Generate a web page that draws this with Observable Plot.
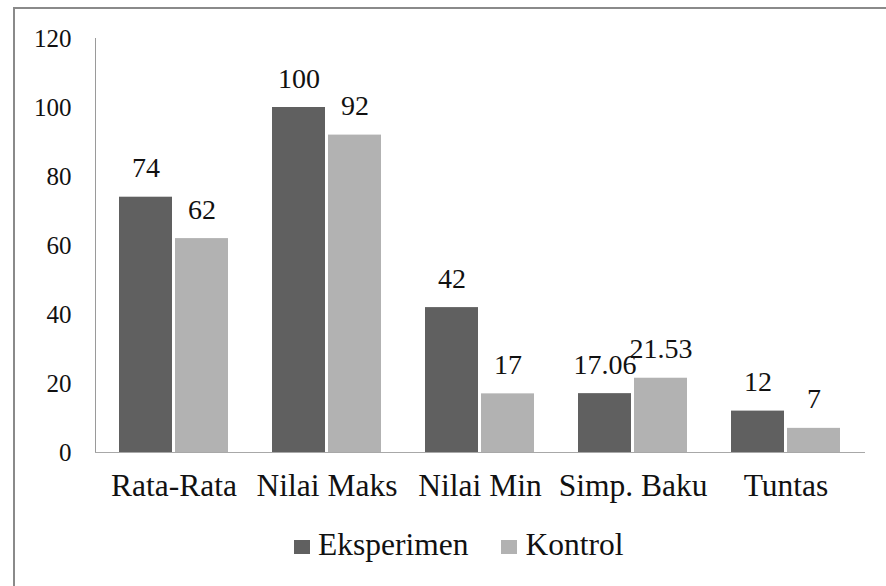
<!DOCTYPE html>
<html>
<head>
<meta charset="utf-8">
<script src="https://cdn.jsdelivr.net/npm/d3@7"></script>
<script src="https://cdn.jsdelivr.net/npm/@observablehq/plot@0.6"></script>
<style>
  html, body { margin: 0; padding: 0; background: #fff; }
  #wrap { position: relative; width: 886px; height: 586px; overflow: hidden; }
  #border { position: absolute; left: 13px; top: 7px; width: 900px; height: 600px; border-left: 2px solid #8a8a8a; border-top: 2px solid #8a8a8a; }
  #chart { position: absolute; left: 0; top: 0; }
  #legend { position: absolute; left: 294px; top: 530px; display: flex; align-items: flex-start; font-size: 31.5px; line-height: 30px; color: #111; }
  .sw { width: 16px; height: 14px; display: inline-block; margin-right: 8px; margin-top: 10px; }
  .item { display: flex; align-items: flex-start; margin-right: 33px; }
</style>
</head>
<body>
<div id="wrap" style="font-family: 'Liberation Serif', 'Times New Roman', Times, serif">
  <div id="border"></div>
  <div id="chart"></div>
  <div id="legend"></div>
</div>
<script>
const categories = ["Rata-Rata", "Nilai Maks", "Nilai Min", "Simp. Baku", "Tuntas"];
const series = ["Eksperimen", "Kontrol"];
const eksperimen = [74, 100, 42, 17.06, 12];
const kontrol = [62, 92, 17, 21.53, 7];
const labelsEksperimen = ["74", "100", "42", "17.06", "12"];
const labelsKontrol = ["62", "92", "17", "21.53", "7"];
const yTicks = [0, 20, 40, 60, 80, 100, 120];
const colors = ["#606060", "#b2b2b2"];

const dataE = categories.map((c, i) => ({category: c, value: eksperimen[i], label: labelsEksperimen[i]}));
const dataK = categories.map((c, i) => ({category: c, value: kontrol[i], label: labelsKontrol[i]}));

const FONT = "'Liberation Serif', 'Times New Roman', Times, serif";

const plot = Plot.plot({
  width: 886,
  height: 510,
  marginLeft: 95,
  marginRight: 21,
  marginTop: 38,
  marginBottom: 58,
  style: {"font-family": FONT, color: "#111", background: "transparent"},
  x: {domain: categories, paddingInner: 0.2857, paddingOuter: 0.143, label: null},
  y: {domain: [0, 120], label: null},
  marks: [
    Plot.axisY({ticks: yTicks, tickSize: 0, tickPadding: 24, fontSize: 25, tickFormat: d => String(d), label: null, fill: "#111"}),
    Plot.frame({anchor: "left", stroke: "#9a9a9a"}),
    Plot.axisX({tickSize: 0, tickPadding: 21, fontSize: 31.5, label: null, fill: "#111"}),
    Plot.barY(dataE, {x: "category", y: "value", fill: colors[0], insetRight: 56}),
    Plot.barY(dataK, {x: "category", y: "value", fill: colors[1], insetLeft: 56}),
    Plot.ruleY([0], {stroke: "#a8a8a8"}),
    Plot.text(dataE, {x: "category", y: "value", text: "label", dx: -28, dy: -20, lineAnchor: "bottom", fontSize: 28, fill: "#111"}),
    Plot.text(dataK, {x: "category", y: "value", text: "label", dx: 28, dy: -20, lineAnchor: "bottom", fontSize: 28, fill: "#111"})
  ]
});
plot.setAttribute("font-family", FONT);
plot.style.fontFamily = FONT;
document.getElementById("chart").appendChild(plot);

const legend = document.getElementById("legend");
legend.style.fontFamily = FONT;
series.forEach((s, i) => {
  const item = document.createElement("div");
  item.className = "item";
  const sw = document.createElement("span");
  sw.className = "sw";
  sw.style.background = colors[i];
  const t = document.createElement("span");
  t.textContent = s;
  item.appendChild(sw);
  item.appendChild(t);
  legend.appendChild(item);
});
</script>
</body>
</html>
